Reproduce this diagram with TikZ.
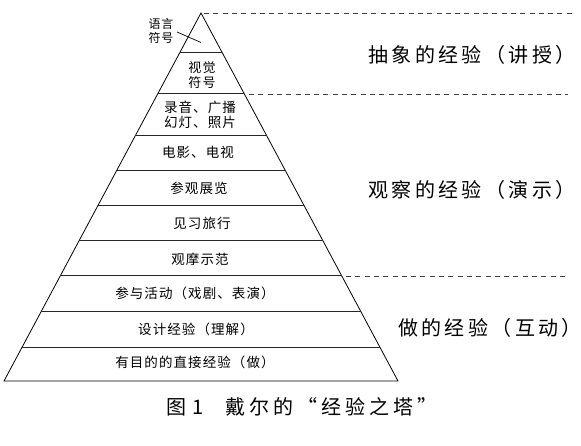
\documentclass[tikz,border=0pt]{standalone}
\usepackage{fontspec}
\setmainfont{Noto Sans CJK SC}
\newfontfamily\cjkw[LetterSpace=8]{Noto Sans CJK SC}
\newfontfamily\cjkwide[LetterSpace=17]{Noto Sans CJK SC}
\newfontfamily\cjkcap[LetterSpace=20]{Noto Sans CJK SC}
\begin{document}
\begin{tikzpicture}[x=1pt,y=-1pt,
  edge/.style={line width=0.8pt,black},
  bar/.style={line width=1pt,black!85},
  guide/.style={line width=0.7pt,black!75,dash pattern=on 5pt off 4.3pt},
  lvl/.style={inner sep=0pt,font=\cjkw\fontsize{13.5}{15.5}\selectfont,align=center},
  small/.style={inner sep=0pt,font=\cjkw\fontsize{12}{15}\selectfont,align=center},
  side/.style={inner sep=0pt,font=\cjkwide\fontsize{20}{22}\selectfont},
  captext/.style={inner sep=0pt,font=\cjkcap\fontsize{20}{22}\selectfont}]
\useasboundingbox (0,0) rectangle (581,446);
% pyramid corners
\coordinate (apex) at (201,13);
\coordinate (bl) at (4,381);
\coordinate (br) at (398,381);
\draw[edge] (bl) -- (apex) -- (br) -- cycle;
% level bars
\coordinate (l1) at (179.6,53);  \coordinate (r1) at (222.4,53);
\coordinate (l2) at (157.6,94);  \coordinate (r2) at (244.4,94);
\coordinate (l3) at (135.2,136); \coordinate (r3) at (266.8,136);
\coordinate (l4) at (116.4,171); \coordinate (r4) at (285.6,171);
\coordinate (l5) at (97.7,206);  \coordinate (r5) at (304.3,206);
\coordinate (l6) at (78.9,241);  \coordinate (r6) at (323.1,241);
\coordinate (l7) at (60.2,276);  \coordinate (r7) at (341.8,276);
\coordinate (l8) at (40.9,312);  \coordinate (r8) at (361.1,312);
\coordinate (l9) at (22.2,347);  \coordinate (r9) at (379.8,347);
\foreach \i in {1,...,9} \draw[bar] (l\i) -- (r\i);
% dashed guides
\coordinate (g1) at (575,13);
\coordinate (g2a) at (249,94);  \coordinate (g2) at (568,94);
\coordinate (g3a) at (346,276); \coordinate (g3) at (568,276);
\draw[guide] ([xshift=3pt]apex) -- (g1);
\draw[guide] (g2a) -- (g2);
\draw[guide] (g3a) -- (g3);
% level labels
\node[small] (yy) at (161,31) {语言\\[-1.5pt]符号};
\coordinate (yyend) at (201,42.5);
\draw[line width=0.7pt] (177,32) -- (yyend);
\node[lvl,font=\cjkw\fontsize{13}{14.5}\selectfont] (sj) at (202,75) {视觉\\符号};
\node[lvl] (ly) at (200,115) {录音、广播\\幻灯、照片};
\node[lvl] (dy) at (198,152) {电影、电视};
\node[lvl] (cg) at (199,188) {参观展览};
\node[lvl] (jx) at (202,223) {见习旅行};
\node[lvl] (gm) at (200,259) {观摩示范};
\node[lvl] (cy) at (195,293) {参与活动（戏剧、表演）};
\node[lvl] (sjj) at (196,329) {设计经验（理解）};
\node[lvl] (ymd) at (195,362) {有目的的直接经验（做）};
% side labels
\node[side] (cx) at (472,55) {抽象的经验（讲授）};
\node[side] (gc) at (472,190) {观察的经验（演示）};
\node[side] (zd) at (490,328) {做的经验（互动）};
% caption
\node[captext,anchor=west] (caption) at (166,407) {图\hspace{6pt}1\hspace{22pt}戴尔的“经验之塔”};
\end{tikzpicture}
\end{document}
